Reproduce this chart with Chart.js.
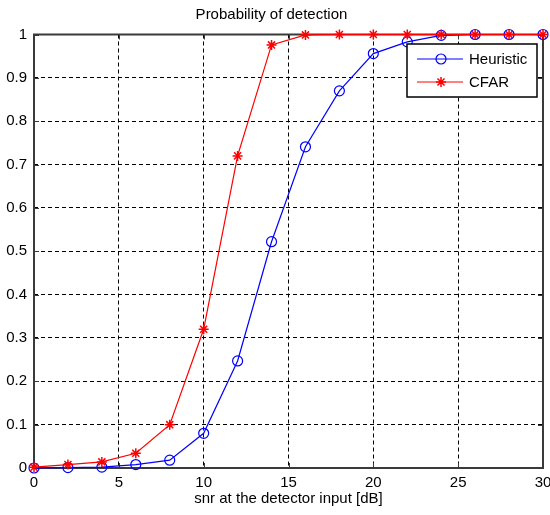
<!DOCTYPE html>
<html>
<head>
<meta charset="utf-8">
<title>Probability of detection</title>
<script src="https://cdn.jsdelivr.net/npm/chart.js@4/dist/chart.umd.min.js"></script>
<style>
  body { margin: 0; background: #fff; }
  #wrap { width: 550px; height: 515px; }
</style>
</head>
<body>
<div id="wrap"><canvas id="pdChart" width="550" height="515"></canvas></div>
<script>
// data
const snr = [0, 2, 4, 6, 8, 10, 12, 14, 16, 18, 20, 22, 24, 26, 28, 30];
const heuristic = [0, 0.001, 0.002, 0.008, 0.018, 0.08, 0.247, 0.522, 0.741, 0.870, 0.956, 0.983, 0.998, 1, 1, 1];
const cfar = [0.002, 0.008, 0.014, 0.034, 0.100, 0.320, 0.720, 0.976, 0.999, 1, 1, 1, 1, 1, 1, 1];
const xTickLabels = ['0', '5', '10', '15', '20', '25', '30'];
const yTickLabels = ['0', '0.1', '0.2', '0.3', '0.4', '0.5', '0.6', '0.7', '0.8', '0.9', '1'];

const FONT = '"Liberation Sans", Arial, sans-serif';
const AXIS_COLOR = '#3a3a3a';

const toPoints = (ys) => ys.map((y, i) => ({ x: snr[i], y: y }));

// box frame + inward ticks like matlab
const frameAndTicks = {
    id: 'frameAndTicks',
    beforeDatasetsDraw(chart) {
        const { ctx, chartArea: a, scales } = chart;
        ctx.save();
        ctx.strokeStyle = AXIS_COLOR;
        ctx.lineWidth = 1;
        const len = 5;
        ctx.beginPath();
        scales.x.ticks.forEach(t => {
            const px = Math.round(scales.x.getPixelForValue(t.value)) + 0.5;
            ctx.moveTo(px, a.bottom); ctx.lineTo(px, a.bottom - len);
            ctx.moveTo(px, a.top); ctx.lineTo(px, a.top + len);
        });
        scales.y.ticks.forEach(t => {
            const py = Math.round(scales.y.getPixelForValue(t.value)) + 0.5;
            ctx.moveTo(a.left, py); ctx.lineTo(a.left + len, py);
            ctx.moveTo(a.right, py); ctx.lineTo(a.right - len, py);
        });
        ctx.stroke();
        ctx.lineWidth = 2;
        ctx.strokeRect(a.left, a.top, a.right - a.left, a.bottom - a.top);
        ctx.restore();
    }
};

// legend box in the top right corner of the axes
const boxLegend = {
    id: 'boxLegend',
    afterDraw(chart) {
        const { ctx } = chart;
        const x0 = 407, y0 = 44, w = 130, h = 53;
        ctx.save();
        ctx.fillStyle = '#fff';
        ctx.fillRect(x0, y0, w, h);
        ctx.strokeStyle = '#000';
        ctx.lineWidth = 1.5;
        ctx.strokeRect(x0, y0, w, h);
        chart.data.datasets.slice().sort((a, b) => a.legendRow - b.legendRow).forEach((ds, i) => {
            const cy = y0 + 15 + i * 23;
            ctx.strokeStyle = ds.borderColor;
            ctx.lineWidth = 1;
            ctx.beginPath();
            ctx.moveTo(x0 + 10, cy);
            ctx.lineTo(x0 + 56, cy);
            ctx.stroke();
            ctx.strokeStyle = ds.pointBorderColor;
            ctx.fillStyle = 'transparent';
            ctx.lineWidth = ds.pointBorderWidth;
            Chart.helpers.drawPoint(ctx, { pointStyle: ds.pointStyle, radius: ds.pointRadius, borderWidth: ds.pointBorderWidth, rotation: 0 }, x0 + 34, cy);
            ctx.fillStyle = '#000';
            ctx.font = '15px ' + FONT;
            ctx.textBaseline = 'middle';
            ctx.textAlign = 'left';
            ctx.fillText(ds.label, x0 + 62, cy + 1);
        });
        ctx.restore();
    }
};

const pdChart = new Chart(document.getElementById('pdChart').getContext('2d'), {
    type: 'line',
    data: {
        datasets: [{
            label: 'CFAR',
            data: toPoints(cfar),
            borderColor: '#ff0000',
            borderWidth: 1.2,
            pointStyle: 'star',
            pointRadius: 5,
            pointBorderWidth: 1.5,
            pointBorderColor: '#ff0000',
            pointBackgroundColor: '#ff0000',
            order: 0,
            legendRow: 1,
            clip: false
        }, {
            label: 'Heuristic',
            data: toPoints(heuristic),
            borderColor: '#0000ff',
            borderWidth: 1.2,
            pointStyle: 'circle',
            pointRadius: 5,
            pointBorderWidth: 1.2,
            pointBorderColor: '#0000ff',
            pointBackgroundColor: 'rgba(0,0,0,0)',
            order: 1,
            legendRow: 0,
            clip: false
        }]
    },
    options: {
        responsive: false,
        animation: false,
        events: [],
        layout: { padding: { left: 0, right: 7, top: 0, bottom: 0 } },
        plugins: {
            legend: { display: false },
            tooltip: { enabled: false },
            title: {
                display: true,
                text: 'Probability of detection',
                color: '#000',
                font: { family: FONT, size: 15, weight: 'normal' },
                padding: { top: 6, bottom: 10.5 }
            }
        },
        scales: {
            x: {
                type: 'linear',
                min: 0,
                max: 30,
                ticks: {
                    stepSize: 5,
                    color: '#000',
                    padding: 6,
                    maxRotation: 0,
                    font: { family: FONT, size: 15 },
                    callback: (v) => xTickLabels[Math.round(v / 5)]
                },
                grid: { color: '#000', lineWidth: 1, drawTicks: false },
                border: { display: false, dash: [4, 3] },
                title: {
                    display: true,
                    text: 'snr at the detector input [dB]',
                    color: '#000',
                    font: { family: FONT, size: 15 },
                    padding: { top: 0, bottom: 7 }
                },
                afterFit(axis) {
                    axis.height = 47;
                    axis.paddingLeft = 0;
                    axis.paddingRight = 0;
                }
            },
            y: {
                min: 0,
                max: 1,
                ticks: {
                    stepSize: 0.1,
                    color: '#000',
                    padding: 7,
                    font: { family: FONT, size: 15 },
                    callback: (v) => yTickLabels[Math.round(v * 10)]
                },
                grid: { color: '#000', lineWidth: 1, drawTicks: false },
                border: { display: false, dash: [4, 3] },
                afterFit(axis) {
                    axis.width = 34;
                    axis.paddingTop = 0;
                    axis.paddingBottom = 0;
                }
            }
        }
    },
    plugins: [frameAndTicks, boxLegend]
});
</script>
</body>
</html>
